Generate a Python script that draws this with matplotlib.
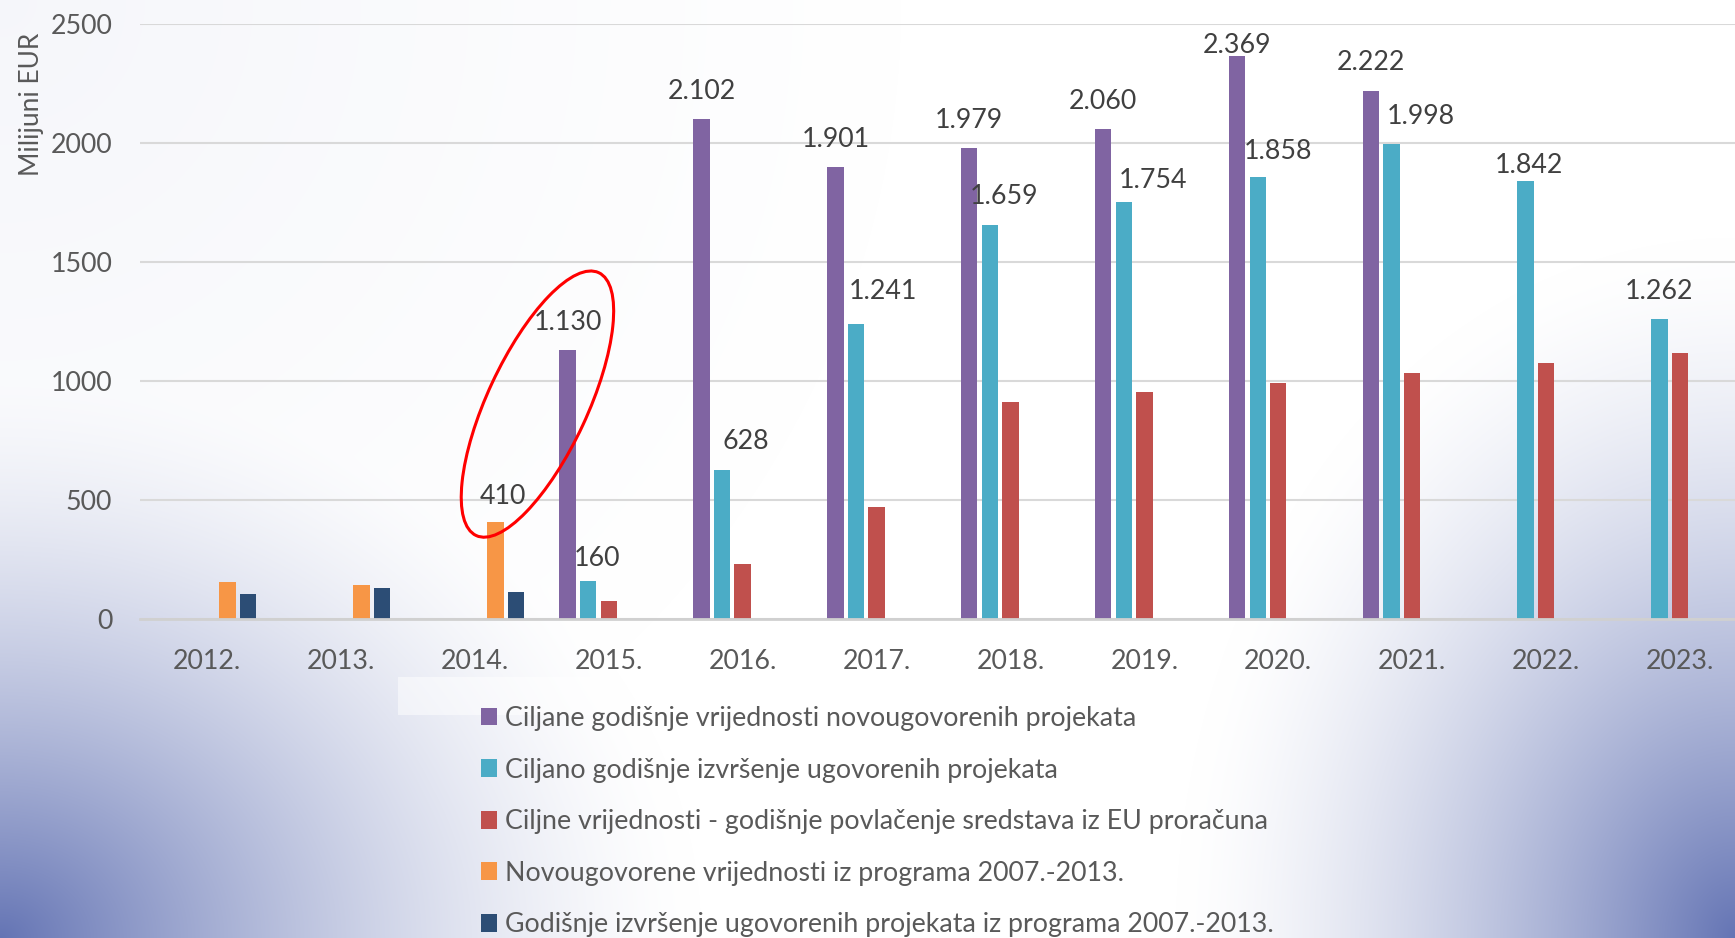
import numpy as np
import matplotlib
matplotlib.use("Agg")
import matplotlib.pyplot as plt
from matplotlib.patches import Patch, Ellipse, Rectangle
from matplotlib.transforms import IdentityTransform

nan = np.nan
years = ["2012.", "2013.", "2014.", "2015.", "2016.", "2017.",
         "2018.", "2019.", "2020.", "2021.", "2022.", "2023."]
series_names = [
    "Ciljane godišnje vrijednosti novougovorenih projekata",
    "Ciljano godišnje izvršenje ugovorenih projekata",
    "Ciljne vrijednosti - godišnje povlačenje sredstava iz EU proračuna",
    "Novougovorene vrijednosti iz programa 2007.-2013.",
    "Godišnje izvršenje ugovorenih projekata iz programa 2007.-2013.",
]
purple_vals = [nan, nan, nan, 1130, 2102, 1901, 1979, 2060, 2369, 2222, nan, nan]
teal_vals = [nan, nan, nan, 160, 628, 1241, 1659, 1754, 1858, 1998, 1842, 1262]
red_vals = [nan, nan, nan, 77, 233, 474, 912, 954, 992, 1034, 1076, 1118]
orange_vals = [155, 146, 410, nan, nan, nan, nan, nan, nan, nan, nan, nan]
navy_vals = [107, 131, 115, nan, nan, nan, nan, nan, nan, nan, nan, nan]
yticks = [0, 500, 1000, 1500, 2000, 2500]
y_label = "Milijuni EUR"

colors = ["#8064A2", "#4BACC6", "#C0504D", "#F79646", "#2C4D75"]
all_vals = [purple_vals, teal_vals, red_vals, orange_vals, navy_vals]
labelled = {0: "all", 1: "all", 3: [2]}  # series index -> which categories get labels
# label pixel offsets (style only): (series, category) -> (dx, dy)
label_dx = {(1, 3): 9, (1, 4): 24, (1, 5): 27, (1, 6): 14, (1, 7): 29,
            (1, 8): 20, (1, 9): 29, (1, 10): 3, (3, 2): 8}
label_dy = {(0, 8): 10, (1, 3): 23, (3, 2): 25, (1, 5): 33, (1, 7): 21,
            (1, 8): 26, (1, 9): 27, (1, 10): 16}

W, H = 1735, 938
fig = plt.figure(figsize=(W / 100, H / 100), dpi=100)

# background gradient
bg = fig.add_axes([0, 0, 1, 1], zorder=-5)
yy, xx = np.mgrid[0:H, 0:W].astype(float)
d1 = np.sqrt((xx / 700) ** 2 + ((H - yy) / 560) ** 2)
w1 = np.clip(1 - d1, 0, 1) ** 1.5
d2 = np.sqrt(((W - xx) / 560) ** 2 + ((H - yy) / 700) ** 2)
w2 = np.clip(1 - d2, 0, 1) ** 1.5
d0 = np.sqrt((xx / 900) ** 2 + (yy / 900) ** 2)
w0 = np.clip(1 - d0, 0, 1) * 0.06
w = np.clip(w1 + w2 + w0, 0, 1)
target = np.array([100, 116, 180]) / 255.0
img = (1 - w[..., None]) * np.array([1.0, 1.0, 1.0]) + w[..., None] * target
bg.imshow(img, extent=[0, W, H, 0], aspect="auto", interpolation="bilinear")
bg.add_patch(Rectangle((398, 677), 830, 38, color="white", alpha=0.5, lw=0))
bg.set_xlim(0, W)
bg.set_ylim(H, 0)
bg.axis("off")

left_px, right_px, zero_px, top_px = 140, 1747, 619.3, 24.5
ax = fig.add_axes([left_px / W, (H - zero_px) / H, (right_px - left_px) / W,
                   (zero_px - top_px) / H])
ax.set_facecolor("none")

x = np.arange(len(years))
pitch = 0.1538
bw = 0.122
font = "Lato"
fs = 19.3
for i, (vals, c) in enumerate(zip(all_vals, colors)):
    ax.bar(x + (i - 2) * pitch, vals, width=bw, color=c, zorder=3,
           label=series_names[i])

ax.set_xlim(-0.5, len(years) - 0.5)
ax.set_ylim(0, 2500)
ax.set_yticks(yticks)
ax.set_yticklabels([str(t) for t in yticks], fontsize=fs, family=font, color="#595959")
ax.set_xticks(x)
ax.set_xticklabels(years, fontsize=fs, family=font, color="#595959")
ax.tick_params(axis="both", length=0)
ax.tick_params(axis="y", pad=20)
ax.tick_params(axis="x", pad=21.5)
ax.grid(axis="y", color="#d9d9d9", lw=1.5, zorder=0)
for s in ["top", "right", "left"]:
    ax.spines[s].set_visible(False)
ax.spines["bottom"].set_color("#d0d0d0")
ax.spines["bottom"].set_linewidth(2.0)
ax.spines["bottom"].set_zorder(4)

fig.text(31 / W, 1 - 104 / H, y_label, rotation=90, ha="center", va="center",
         fontsize=19, family=font, color="#595959")

# data labels
for si, which in labelled.items():
    vals = all_vals[si]
    cats = range(len(years)) if which == "all" else which
    for ci in cats:
        v = vals[ci]
        if np.isnan(v):
            continue
        txt = f"{int(v):,}".replace(",", ".")
        ax.annotate(txt, (x[ci] + (si - 2) * pitch, v),
                    xytext=(label_dx.get((si, ci), 0), label_dy.get((si, ci), 28)),
                    textcoords="offset pixels", ha="center", va="center",
                    fontsize=fs, family=font, color="#404040", zorder=5,
                    annotation_clip=False)

# highlight ellipse around 2014 / 2015 labels
p_a = ax.transData.transform((x[2] + (3 - 2) * pitch, orange_vals[2]))
p_b = ax.transData.transform((x[3] + (0 - 2) * pitch, purple_vals[3]))
cx = (p_a[0] + p_b[0]) / 2 + 6
cy = (p_a[1] + p_b[1]) / 2 + 32
ell = Ellipse((cx, cy), 290, 100, angle=65, transform=IdentityTransform(),
              fill=False, edgecolor="#ff0000", lw=2.2, zorder=6, clip_on=False)
fig.patches.append(ell)

handles = [Patch(facecolor=c, edgecolor="none") for c in colors]
leg = fig.legend(handles, series_names, loc="upper left",
                 bbox_to_anchor=(481 / W, 1 - 706 / H), frameon=False,
                 prop={"family": font, "size": fs}, labelcolor="#595959",
                 handlelength=0.6, handleheight=0.64, handletextpad=0.28,
                 labelspacing=0.99, borderaxespad=0, borderpad=0)

fig.savefig("out.png", dpi=100)
